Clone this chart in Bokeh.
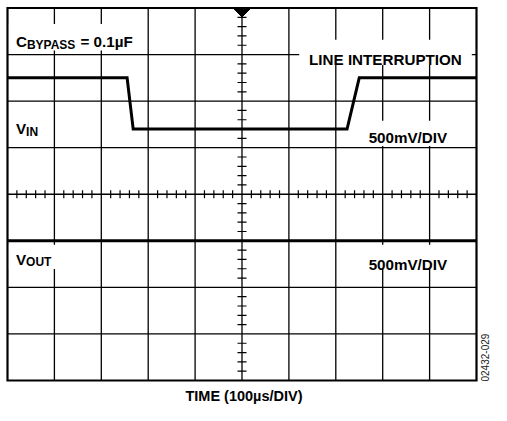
import numpy as np
from bokeh.plotting import figure
from bokeh.models import Range1d, Label, BoxAnnotation
from bokeh.embed import file_html
from bokeh.resources import INLINE

# ---------------- data (time in µs, voltage in mV from screen centre) ----------------
vin_time_us = [0, 255, 268, 724, 750, 1000]
vin_mv = [1250, 1250, 700, 700, 1250, 1250]
vout_time_us = [0, 1000]
vout_mv = [-500, -500]

x_major_us = [100, 200, 300, 400, 500, 600, 700, 800, 900]
y_major_mv = [-1500, -1000, -500, 0, 500, 1000, 1500]
trigger_time_us = 500
time_per_div_us = 100
mv_per_div = 500

x_label = "TIME (100µs/DIV)"
figure_id = "02432-029"

# ---------------- layout (pixels of the figure) ----------------
W, H = 491, 405
SCR_L, SCR_R = 7.0, 476.0      # screen edges, x
SCR_T, SCR_B = 7.5, 380.0      # screen edges, y
X0, X1 = 0, 1000
Y0, Y1 = -2000, 2000
us_per_px = (X1 - X0) / (SCR_R - SCR_L)
mv_per_px = (Y1 - Y0) / (SCR_B - SCR_T)

x_start = X0 - SCR_L * us_per_px
x_end = X1 + (W - SCR_R) * us_per_px
y_end = Y1 + SCR_T * mv_per_px
y_start = Y0 - (H - SCR_B) * mv_per_px

p = figure(frame_width=W, frame_height=H,
           x_range=Range1d(x_start, x_end), y_range=Range1d(y_start, y_end),
           output_backend="svg", toolbar_location=None,
           min_border=0, x_axis_type=None, y_axis_type=None)
p.background_fill_color = "white"
p.border_fill_color = "white"
p.outline_line_color = None
p.grid.visible = False

# graticule
p.segment(x0=x_major_us, y0=[Y0] * len(x_major_us), x1=x_major_us, y1=[Y1] * len(x_major_us),
          line_color="black", line_width=1.3)
p.segment(x0=[X0] * len(y_major_mv), y0=y_major_mv, x1=[X1] * len(y_major_mv), y1=y_major_mv,
          line_color="black", line_width=1.3)
p.quad(left=[X0], right=[X1], bottom=[Y0], top=[Y1], fill_color=None,
       line_color="black", line_width=2.2, line_join="miter")

# minor ticks on the centre cross
minor_y = [v for v in np.arange(Y0, Y1 + 1, mv_per_div / 5) if v % mv_per_div != 0]
minor_x = [v for v in np.arange(X0, X1 + 1, time_per_div_us / 5) if v % time_per_div_us != 0]
p.scatter(x=[trigger_time_us] * len(minor_y), y=minor_y, marker="dash", size=9,
          angle=0, line_color="black", line_width=1.2)
p.scatter(x=minor_x, y=[0] * len(minor_x), marker="dash", size=8,
          angle=np.pi / 2, line_color="black", line_width=1.2)

# trigger marker at the top
tw = 9 * us_per_px
th = 9 * mv_per_px
p.patch(x=[trigger_time_us - tw, trigger_time_us + tw, trigger_time_us],
        y=[Y1, Y1, Y1 - th], fill_color="black", line_color="black")

# traces
p.line(vin_time_us, vin_mv, line_color="black", line_width=3, line_join="miter")
p.line(vout_time_us, vout_mv, line_color="black", line_width=3)

# white boxes behind the labels
for l, r, b, t in [(3, 280, 1544, 1827),
                   (622, 990, 1387, 1659),
                   (754, 960, 517, 789),
                   (754, 960, -804, -542),
                   (3, 115, -804, -542)]:
    p.add_layout(BoxAnnotation(left=l, right=r, bottom=b, top=t,
                               fill_color="white", fill_alpha=1.0, line_color=None))

FONT = "Liberation Sans"
MAIN = 15.2
SUB = 12


def txt(x, y, text, size=MAIN, xo=0, yo=0, align="left", bold=True, angle=0,
        baseline="alphabetic", color="black"):
    p.add_layout(Label(x=x, y=y, text=text, x_offset=xo, y_offset=yo,
                       text_font=FONT, text_font_style="bold" if bold else "normal",
                       text_font_size=f"{size}px", text_color=color,
                       text_align=align, text_baseline=baseline, angle=angle))


# C_BYPASS = 0.1µF
txt(18, 1640, "C")
txt(18, 1640, "BYPASS", size=SUB, xo=0.722 * MAIN, yo=-3)
txt(18, 1640, "= 0.1µF", xo=0.722 * MAIN + 4.112 * SUB + 0.278 * MAIN)

txt(643, 1450, "LINE INTERRUPTION")

# V_IN
txt(18, 705, "V")
txt(18, 705, "IN", size=SUB, xo=0.667 * MAIN, yo=-3)
txt(770, 611, "500mV/DIV")

# V_OUT
txt(18, -699, "V")
txt(18, -699, "OUT", size=SUB, xo=0.667 * MAIN, yo=-3)
txt(770, -752, "500mV/DIV")

# x label below the screen
txt(trigger_time_us, Y0, x_label, size=14.5, align="center", xo=2, yo=-15)

# figure id, rotated (reads bottom to top)
txt(X1, Y0, figure_id, size=10, bold=False, xo=8, yo=-1, angle=np.pi / 2,
    baseline="middle", color="#222222")

open("out.html", "w").write(file_html(p, INLINE))
